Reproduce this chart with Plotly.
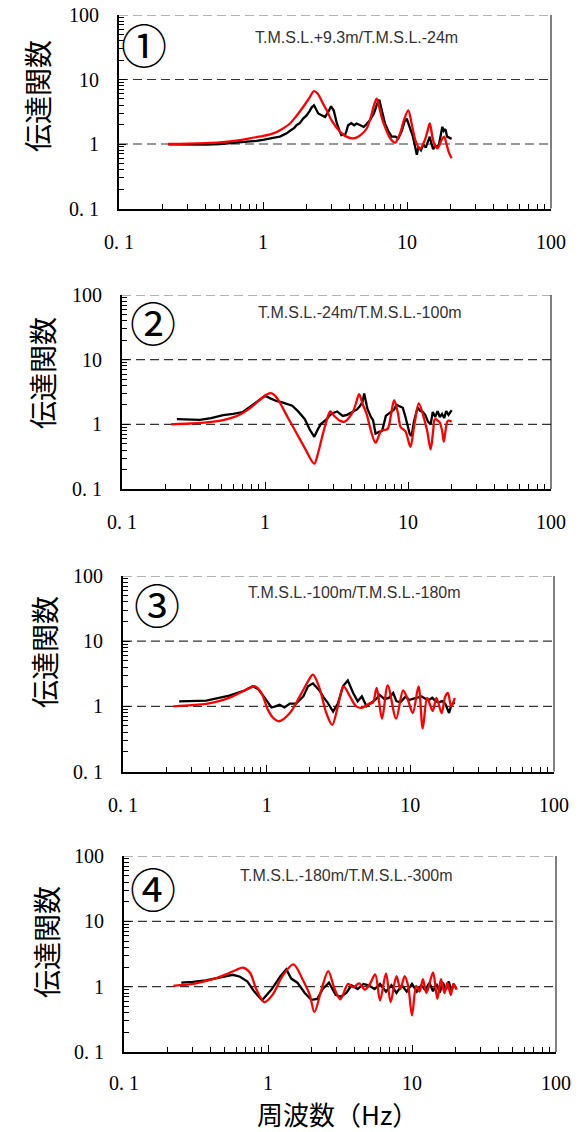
import plotly.graph_objects as go

# ---- transfer functions (frequency in Hz, amplitude ratio) ----
# black = observed, red = analysis
f1_obs = [0.22, 0.3, 0.4, 0.5, 0.6, 0.7, 0.8, 0.9, 1.0, 1.1, 1.2, 1.31, 1.45, 1.55, 1.65, 1.71, 1.8, 1.9, 2.0, 2.1,
          2.18, 2.26, 2.33, 2.42, 2.55, 2.7, 2.85, 2.97, 3.1, 3.26, 3.4, 3.5, 3.6, 3.7, 3.8, 3.9, 4.1, 4.3, 4.47, 4.7,
          5.0, 5.2, 5.53, 5.9, 6.2, 6.42, 6.6, 7.03, 7.4, 7.83, 8.3, 8.7, 9.2, 9.6, 9.96, 10.4, 11.0, 11.4, 11.7, 12.0,
          12.5, 13.0, 13.5, 14.0, 14.4, 14.8, 15.2, 15.7, 16.2, 16.7, 17.1, 17.6, 18.0, 18.5, 19.0, 19.5, 20.4]
h1_obs = [0.99, 0.98, 0.98, 1.0, 1.03, 1.06, 1.09, 1.12, 1.16, 1.22, 1.26, 1.3, 1.45, 1.62, 1.78, 1.96, 2.1, 2.48, 2.75,
          3.2, 3.7, 3.98, 3.5, 2.97, 2.8, 2.63, 3.2, 3.84, 3.3, 2.08, 1.6, 1.37, 1.4, 1.35, 1.6, 1.96, 2.1, 1.95, 2.08,
          1.95, 1.85, 2.0, 2.34, 3.0, 4.2, 4.86, 3.8, 2.08, 1.6, 1.3, 1.3, 1.22, 1.6, 2.2, 2.48, 1.9, 1.3, 0.9, 0.68,
          0.9, 0.8, 0.98, 0.88, 1.1, 1.3, 1.0, 0.83, 0.95, 0.9, 1.0, 1.4, 1.85, 1.6, 1.7, 1.3, 1.25, 1.2]
f1_calc = [0.22, 0.3, 0.4, 0.5, 0.69, 0.9, 1.0, 1.18, 1.35, 1.54, 1.7, 1.9, 2.1, 2.26, 2.4, 2.6, 2.77, 3.0, 3.43, 3.8,
           4.24, 4.8, 5.25, 5.6, 5.9, 6.15, 6.4, 6.7, 7.03, 7.6, 8.26, 8.9, 9.5, 10.2, 10.8, 11.5, 12.3, 13.2, 13.9,
           14.4, 15.0, 15.6, 16.3, 17.2, 18.1, 18.8, 19.5, 20.4]
h1_calc = [1.0, 1.01, 1.03, 1.06, 1.15, 1.28, 1.33, 1.46, 1.7, 2.08, 2.7, 3.75, 5.2, 6.6, 6.0, 4.3, 3.33, 2.3, 1.55, 1.3,
           1.22, 1.4, 1.74, 2.6, 4.0, 5.05, 3.8, 2.5, 1.85, 1.25, 1.05, 1.4, 2.3, 3.33, 2.0, 1.1, 0.84, 1.1, 1.6,
           2.08, 1.3, 0.95, 0.86, 1.1, 1.3, 1.0, 0.75, 0.6]

f2_obs = [0.242, 0.3, 0.35, 0.42, 0.51, 0.6, 0.7, 0.82, 0.92, 1.0, 1.1, 1.2, 1.32, 1.42, 1.55, 1.7, 1.9, 2.05, 2.21,
          2.35, 2.45, 2.7, 2.86, 3.0, 3.2, 3.35, 3.5, 3.75, 4.0, 4.2, 4.4, 4.6, 4.8, 4.94, 5.1, 5.2, 5.5, 5.7, 5.93,
          6.2, 6.6, 7.0, 7.3, 7.7, 8.0, 8.3, 8.7, 9.2, 9.6, 10.0, 10.3, 10.6, 11.0, 11.4, 11.7, 12.2, 12.7, 13.2, 13.8,
          14.4, 14.9, 15.5, 16.1, 16.7, 17.3, 17.9, 18.5, 19.2, 20.2]
h2_obs = [1.2, 1.18, 1.17, 1.25, 1.39, 1.45, 1.55, 2.0, 2.45, 2.77, 2.5, 2.3, 2.18, 2.05, 1.94, 1.6, 1.2, 0.84, 0.64,
          0.85, 1.0, 1.2, 1.4, 1.5, 1.58, 1.45, 1.35, 1.4, 1.5, 1.6, 1.7, 1.9, 2.2, 3.0, 2.2, 1.75, 1.3, 1.16, 0.72,
          0.75, 0.8, 1.35, 1.45, 1.55, 1.7, 2.0, 1.9, 1.8, 1.3, 0.94, 0.7, 0.66, 1.1, 1.5, 1.8, 1.6, 1.55, 1.4, 1.1,
          1.0, 1.55, 1.3, 1.6, 1.3, 1.45, 1.25, 1.6, 1.4, 1.65]
f2_calc = [0.22, 0.3, 0.39, 0.5, 0.59, 0.68, 0.77, 0.87, 0.96, 1.03, 1.1, 1.17, 1.25, 1.45, 1.63, 1.92, 2.21, 2.35,
           2.5, 2.7, 2.86, 3.05, 3.36, 3.6, 3.9, 4.15, 4.35, 4.55, 4.8, 5.14, 5.5, 5.93, 6.5, 7.2, 7.6, 8.0, 8.5, 8.9,
           9.6, 10.4, 11.0, 11.9, 12.9, 13.6, 14.4, 15.0, 15.4, 16.6, 17.3, 17.8, 18.3, 19.0, 20.2]
h2_calc = [1.0, 1.03, 1.07, 1.15, 1.27, 1.45, 1.72, 2.15, 2.6, 2.9, 3.04, 2.8, 2.31, 1.25, 0.79, 0.41, 0.247, 0.36,
           0.62, 1.15, 1.58, 1.35, 1.13, 1.1, 1.3, 1.62, 2.2, 2.94, 2.1, 1.44, 0.8, 0.52, 0.79, 0.85, 1.4, 2.37, 1.5,
           0.9, 0.78, 0.45, 0.89, 2.1, 1.27, 0.8, 0.41, 0.8, 1.2, 1.08, 0.8, 0.54, 0.8, 1.13, 1.1]

f3_obs = [0.246, 0.3, 0.38, 0.55, 0.7, 0.8, 0.87, 0.97, 1.08, 1.15, 1.23, 1.33, 1.45, 1.6, 1.8, 1.94, 2.1, 2.33, 2.5,
          2.65, 2.9, 3.13, 3.4, 3.67, 4.0, 4.3, 4.6, 4.95, 5.4, 5.8, 6.1, 6.6, 7.1, 7.6, 8.0, 8.5, 9.3, 9.8, 10.4,
          11.2, 12.0, 12.8, 13.5, 14.2, 15.0, 15.8, 16.6, 17.5, 18.6, 19.3, 20.4]
h3_obs = [1.19, 1.2, 1.22, 1.46, 1.75, 2.03, 1.85, 1.35, 0.96, 1.0, 1.06, 0.96, 1.1, 1.1, 1.42, 2.03, 2.25, 1.75, 1.35,
          1.15, 0.83, 1.1, 2.03, 2.5, 1.6, 1.2, 1.42, 1.0, 1.15, 1.3, 1.5, 1.3, 1.35, 1.6, 1.2, 1.15, 1.42, 1.25, 1.3,
          1.35, 1.42, 1.3, 1.25, 1.35, 1.2, 1.15, 1.2, 1.1, 0.79, 1.05, 1.15]
f3_calc = [0.224, 0.3, 0.38, 0.48, 0.58, 0.72, 0.83, 0.92, 1.02, 1.1, 1.22, 1.45, 1.7, 1.94, 2.1, 2.33, 2.6, 2.86,
           3.13, 3.43, 3.8, 4.2, 4.6, 5.19, 5.5, 5.83, 6.35, 6.96, 7.96, 8.9, 9.6, 10.4, 11.4, 12.2, 13.1, 14.3, 15.2,
           16.5, 17.5, 18.3, 19.2, 20.4]
h3_calc = [1.0, 1.04, 1.09, 1.22, 1.42, 1.8, 2.03, 1.6, 0.89, 0.68, 0.59, 0.79, 1.42, 2.42, 3.07, 1.92, 0.79, 0.52,
           1.0, 2.03, 1.42, 1.0, 0.95, 1.1, 1.15, 1.92, 0.65, 2.1, 0.65, 1.75, 1.27, 0.79, 2.03, 0.46, 1.35, 0.85, 1.35,
           0.79, 1.42, 1.6, 1.0, 1.35]

f4_obs = [0.25, 0.3, 0.37, 0.45, 0.51, 0.57, 0.64, 0.72, 0.8, 0.91, 1.06, 1.22, 1.34, 1.45, 1.6, 1.8, 2.0, 2.2, 2.4,
          2.65, 2.95, 3.2, 3.5, 3.8, 4.2, 4.6, 5.0, 5.5, 6.0, 6.6, 7.2, 7.8, 8.5, 9.2, 10.0, 10.8, 11.6, 12.4, 13.2,
          14.0, 14.8, 15.6, 16.4, 17.2, 18.0, 18.8, 19.5, 20.4]
h4_obs = [1.15, 1.18, 1.25, 1.35, 1.45, 1.52, 1.42, 1.2, 0.85, 0.62, 0.91, 1.45, 1.84, 1.33, 1.15, 0.8, 0.63, 0.65,
          0.92, 1.15, 0.75, 0.7, 0.8, 1.05, 0.92, 1.1, 1.05, 0.92, 1.1, 0.84, 1.05, 0.8, 1.05, 0.84, 1.1, 0.84, 1.05,
          0.88, 1.15, 0.85, 1.1, 0.82, 1.15, 0.9, 1.2, 0.85, 1.1, 0.92]
f4_calc = [0.22, 0.3, 0.37, 0.45, 0.51, 0.6, 0.67, 0.75, 0.83, 0.946, 1.08, 1.26, 1.5, 1.74, 1.95, 2.1, 2.35, 2.62,
           2.9, 3.18, 3.6, 3.9, 4.3, 4.7, 5.1, 5.55, 6.0, 6.6, 7.1, 7.8, 8.3, 8.9, 9.4, 10.0, 10.7, 11.3, 11.9, 12.6,
           14.0, 15.0, 15.9, 16.8, 17.6, 18.6, 19.4, 20.4]
h4_calc = [1.03, 1.1, 1.22, 1.38, 1.54, 1.8, 1.95, 1.63, 0.91, 0.58, 0.76, 1.45, 2.19, 1.29, 0.75, 0.41, 0.9, 1.73,
           0.92, 0.64, 1.1, 0.98, 1.12, 0.9, 1.1, 1.54, 0.62, 1.6, 0.58, 1.45, 0.92, 1.45, 1.03, 0.365, 1.03, 0.84,
           1.3, 0.8, 1.65, 0.65, 1.3, 0.8, 1.15, 0.75, 1.1, 0.9]

panel_marks = ["①", "②", "③", "④"]
panel_labels = ["T.M.S.L.+9.3m/T.M.S.L.-24m", "T.M.S.L.-24m/T.M.S.L.-100m",
                "T.M.S.L.-100m/T.M.S.L.-180m", "T.M.S.L.-180m/T.M.S.L.-300m"]
tick_vals = [0.1, 1, 10, 100]
tick_text = ["0. 1", "1", "10", "100"]
y_title = "伝達関数"
x_title = "周波数（Hz）"

series = [(f1_obs, h1_obs, f1_calc, h1_calc), (f2_obs, h2_obs, f2_calc, h2_calc),
          (f3_obs, h3_obs, f3_calc, h3_calc), (f4_obs, h4_obs, f4_calc, h4_calc)]

# ---- page geometry in pixels ----
W, H = 586, 1132
# left, right, top, bottom of each plotting area
boxes = [(119, 551, 15, 208.5), (122, 551, 295, 489), (123, 554, 576, 771.5), (124, 556, 856, 1052)]
mark_pos = [(144, 43), (153, 321), (157, 603), (153, 887)]
label_pos = [(356, 37), (360, 313), (354, 593), (346, 875)]
ytitle_pos = [(37, 96), (42, 373), (44, 652), (46, 942)]
x_standoff = [14, 14, 14, 12]

minor_vals = [m * 10 ** e for e in (-1, 0, 1) for m in range(2, 10)]

def px(x):
    return x / W

def py(y):
    return 1 - y / H

fig = go.Figure()
serif = "Liberation Serif"
cjk = "Noto Sans CJK JP"
dash = "9px,5px"

for i, (fo, ho, fc, hc) in enumerate(series):
    n = "" if i == 0 else str(i + 1)
    xa, ya = "x" + n, "y" + n
    fig.add_trace(go.Scatter(x=fo, y=ho, mode="lines", xaxis=xa, yaxis=ya,
                             line=dict(color="black", width=2.3), showlegend=False))
    fig.add_trace(go.Scatter(x=fc, y=hc, mode="lines", xaxis=xa, yaxis=ya,
                             line=dict(color="#ff0000", width=2.3, shape="spline", smoothing=0.9),
                             showlegend=False))
    l, r, t, b = boxes[i]
    common = dict(type="log", range=[-1, 2], showgrid=False, zeroline=False, automargin=False,
                  showline=True, linecolor="black", linewidth=2,
                  tickmode="array", tickvals=tick_vals, ticktext=tick_text,
                  ticks="inside", ticklen=7, tickwidth=1, tickcolor="black",
                  tickfont=dict(family=serif, size=20, color="black"),
                  minor=dict(tickmode="array", tickvals=minor_vals, ticks="inside",
                             ticklen=5, tickwidth=1, tickcolor="black", showgrid=False))
    fig.layout["xaxis" + n] = dict(common, domain=[px(l), px(r)], anchor=ya, ticklabelstandoff=x_standoff[i])
    fig.layout["yaxis" + n] = dict(common, domain=[py(b), py(t)], anchor=xa, ticklabelstandoff=14)

    xd, yd = xa + " domain", ya + " domain"
    # right frame edge
    fig.add_shape(type="line", xref=xd, yref=yd, x0=1, x1=1, y0=0, y1=1,
                  line=dict(color="black", width=1))
    # dashed reference lines
    for v, c in ((1, "#333333"), (10, "#333333"), (100, "#666666")):
        fig.add_shape(type="line", xref=xd, yref=ya, x0=0, x1=1, y0=v, y1=v,
                      line=dict(color=c, width=1.2, dash=dash), layer="below")

    fig.add_annotation(text=panel_marks[i], xref="paper", yref="paper",
                       x=px(mark_pos[i][0]), y=py(mark_pos[i][1]), showarrow=False,
                       xanchor="center", yanchor="middle",
                       font=dict(family=cjk, size=46, color="black"))
    fig.add_annotation(text=panel_labels[i], xref="paper", yref="paper",
                       x=px(label_pos[i][0]), y=py(label_pos[i][1]), showarrow=False,
                       xanchor="center", yanchor="middle",
                       font=dict(family="Liberation Sans", size=16, color="#333333"))
    fig.add_annotation(text=y_title, xref="paper", yref="paper", textangle=-90,
                       x=px(ytitle_pos[i][0]), y=py(ytitle_pos[i][1]), showarrow=False,
                       xanchor="center", yanchor="middle",
                       font=dict(family=cjk, size=28, color="black"))

fig.add_annotation(text=x_title, xref="paper", yref="paper", x=px(337), y=py(1113),
                   showarrow=False, xanchor="center", yanchor="middle", borderpad=0,
                   font=dict(family=cjk, size=26, color="black"))

fig.update_layout(width=W, height=H, margin=dict(l=0, r=0, t=0, b=0),
                  paper_bgcolor="white", plot_bgcolor="white")

fig.write_html("out.html")
